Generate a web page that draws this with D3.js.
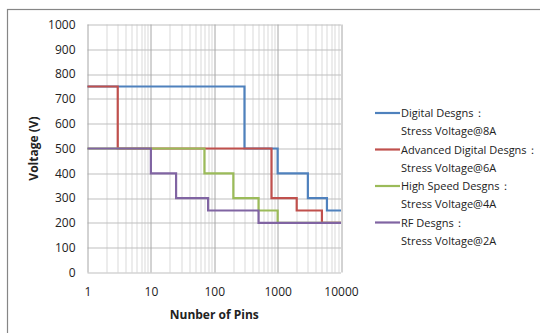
<!DOCTYPE html>
<html>
<head>
<meta charset="utf-8">
<script src="https://cdn.jsdelivr.net/npm/d3@7"></script>
<style>
  body { margin: 0; background: #fff; }
  svg text { font-family: "Open Sans", "Noto Sans", sans-serif; fill: #222; }
</style>
</head>
<body>
<svg></svg>
<script>
// Chart data: step curves (pins, voltage)
const seriesNames = [
    ["Digital Desgns\uff1a", "Stress Voltage@8A"],
    ["Advanced Digital Desgns\uff1a", "Stress Voltage@6A"],
    ["High Speed Desgns\uff1a", "Stress Voltage@4A"],
    ["RF Desgns\uff1a", "Stress Voltage@2A"]
];
const seriesColors = ["#4F81BD", "#C0504D", "#9BBB59", "#8064A2"];

const digitalPins = [1, 300, 300, 1000, 1000, 3000, 3000, 6000, 6000, 10000];
const digitalVolts = [750, 750, 500, 500, 400, 400, 300, 300, 250, 250];

const advancedPins = [1, 3, 3, 800, 800, 2000, 2000, 5000, 5000, 10000];
const advancedVolts = [750, 750, 500, 500, 300, 300, 250, 250, 200, 200];

const highSpeedPins = [1, 70, 70, 200, 200, 500, 500, 1000, 1000, 10000];
const highSpeedVolts = [500, 500, 400, 400, 300, 300, 250, 250, 200, 200];

const rfPins = [1, 10, 10, 25, 25, 80, 80, 500, 500, 10000];
const rfVolts = [500, 500, 400, 400, 300, 300, 250, 250, 200, 200];

const xTicks = [1, 10, 100, 1000, 10000];
const yTicks = [0, 100, 200, 300, 400, 500, 600, 700, 800, 900, 1000];

const seriesData = [
    [digitalPins, digitalVolts],
    [advancedPins, advancedVolts],
    [highSpeedPins, highSpeedVolts],
    [rfPins, rfVolts]
].map(([p, v]) => p.map((x, i) => ({ x: x, y: v[i] })));

// Dimensions
const svgWidth = 540, svgHeight = 333;
const margin = { top: 24.5, left: 87.5, right: 199, bottom: 60.5 };
const plotW = svgWidth - margin.left - margin.right;
const plotH = svgHeight - margin.top - margin.bottom;

const svg = d3.select("svg")
    .attr("width", svgWidth)
    .attr("height", svgHeight);

// Outer chart border
svg.append("rect")
    .attr("x", 7.5).attr("y", 9.5)
    .attr("width", svgWidth).attr("height", svgHeight)
    .attr("fill", "none")
    .attr("stroke", "#868686")
    .attr("stroke-width", 1.2);

const chart = svg.append("g")
    .attr("transform", `translate(${margin.left},${margin.top})`);

const x = d3.scaleLog().domain([1, 10000]).range([0, plotW]);
const y = d3.scaleLinear().domain([0, 1000]).range([plotH, 0]);

// Minor vertical grid
const minorTicks = [];
for (let d = 1; d < 10000; d *= 10) {
    for (let k = 2; k <= 9; k++) minorTicks.push(d * k);
}
chart.append("g")
    .selectAll("line")
    .data(minorTicks)
    .join("line")
    .attr("x1", d => Math.round(x(d)) + 0.5).attr("x2", d => Math.round(x(d)) + 0.5)
    .attr("y1", 0).attr("y2", plotH)
    .attr("stroke", "#d9d9d9");

// Horizontal grid
chart.append("g")
    .selectAll("line")
    .data(yTicks)
    .join("line")
    .attr("x1", 0).attr("x2", plotW)
    .attr("y1", d => Math.round(y(d)) + 0.5).attr("y2", d => Math.round(y(d)) + 0.5)
    .attr("stroke", "#bfbfbf");

// Major vertical grid
chart.append("g")
    .selectAll("line")
    .data(xTicks)
    .join("line")
    .attr("x1", d => Math.round(x(d)) + 0.5).attr("x2", d => Math.round(x(d)) + 0.5)
    .attr("y1", 0).attr("y2", plotH)
    .attr("stroke", "#a6a6a6");

// Axes labels
const yAxis = chart.append("g")
    .call(d3.axisLeft(y).tickValues(yTicks).tickSize(0).tickPadding(12).tickFormat(d3.format("d")));
yAxis.select(".domain").remove();
yAxis.selectAll("text").style("font-size", "12px").attr("fill", "#222");

const xAxis = chart.append("g")
    .attr("transform", `translate(0,${plotH})`)
    .call(d3.axisBottom(x).tickValues(xTicks).tickSize(0).tickPadding(15).tickFormat(d3.format("d")));
xAxis.select(".domain").remove();
xAxis.selectAll("text").style("font-size", "12px").attr("fill", "#222");

// Axis titles
svg.append("text")
    .attr("x", margin.left + plotW / 2)
    .attr("y", 319)
    .attr("text-anchor", "middle")
    .style("font-size", "12px")
    .style("font-weight", "bold")
    .text("Nunber of Pins");

svg.append("text")
    .attr("transform", "rotate(-90)")
    .attr("x", -(margin.top + plotH / 2))
    .attr("y", 38)
    .attr("text-anchor", "middle")
    .style("font-size", "12px")
    .style("font-weight", "bold")
    .text("Voltage (V)");

// Step lines
const line = d3.line().x(d => x(d.x)).y(d => y(d.y));
chart.selectAll(".series")
    .data(seriesData)
    .join("path")
    .attr("class", "series")
    .attr("d", line)
    .attr("fill", "none")
    .attr("stroke", (d, i) => seriesColors[i])
    .attr("stroke-width", 2.2);

// Legend
const legend = svg.append("g")
    .attr("transform", "translate(375,113)");
const items = legend.selectAll("g")
    .data(seriesNames)
    .join("g")
    .attr("transform", (d, i) => `translate(0,${i * 36.5})`);
items.append("line")
    .attr("x1", 0).attr("x2", 25)
    .attr("y1", 0).attr("y2", 0)
    .attr("stroke", (d, i) => seriesColors[i])
    .attr("stroke-width", 2.2);
items.append("text")
    .attr("x", 26).attr("y", 4)
    .style("font-size", "11px")
    .text(d => d[0]);
items.append("text")
    .attr("x", 26).attr("y", 22)
    .style("font-size", "11px")
    .text(d => d[1]);
</script>
</body>
</html>
